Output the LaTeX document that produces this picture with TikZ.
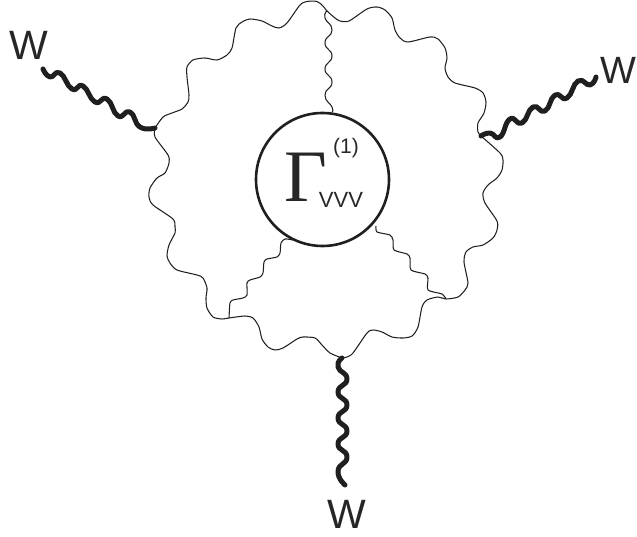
\documentclass[tikz,border=0pt]{standalone}
\usepackage{fontspec}
\setmainfont{Liberation Sans}
\newfontfamily\gamfont{Liberation Serif}
\tikzset{
  ink/.style={draw=black!88},
  gluon/.style={ink,line width=1.05pt,line join=round},
  wboson/.style={ink,line width=5pt,line cap=round,line join=round},
  wlabel/.style={inner sep=0pt,anchor=base,text=black!85,font=\fontsize{41}{41}\selectfont},
  blob/.style={ink,circle,line width=2.6pt,minimum size=133pt,inner sep=0pt},
  lab/.style={inner sep=0pt,anchor=base,text=black!85}
}
\begin{document}
\begin{tikzpicture}[x=1pt,y=-1pt]
\useasboundingbox (0,0) rectangle (637,537);
\coordinate (vL) at (155,128);
\coordinate (vR) at (481,136);
\coordinate (vB) at (342,358);
\coordinate (vT) at (327,11);
\coordinate (vLL) at (229,318);
\coordinate (vLR) at (446,299);
\node[blob] (G) at (322.5,179.5) {};
\coordinate (gT) at (332,112);
\coordinate (gLL) at (293,240);
\coordinate (gLR) at (376,226);
\node[lab,font=\gamfont\fontsize{74}{74}\selectfont] (gam) at (305.5,202) {Γ};
\node[lab,font=\fontsize{21}{21}\selectfont] (one) at (346,154) {(1)};
\node[lab,font=\fontsize{22}{22}\selectfont] (vvv) at (341,208) {VVV};
\node[wlabel] (W1) at (28.5,60) {W};
\node[wlabel,font=\fontsize{38}{38}\selectfont] (W2) at (618.5,84) {W};
\node[wlabel] (W3) at (347,528) {W};
\coordinate (e1) at (43,69);
\coordinate (e2) at (596,77);
\coordinate (e3) at (345,485);
% outer loop
\draw[gluon] plot[smooth,tension=0.45] coordinates {(vL) (163,117) (172,113) (182,109) (188,102) (189,95) (187,77) (187,67) (193,60) (205,58) (217,60) (227,55) (232,48) (236,28) (242,22) (250,19) (262,21) (272,26) (279,28) (287,23) (300,5) (307,1.5) (317,1.5) (323,6) (vT) (335,18) (340,21) (349,21) (367,9) (377,7) (385,10) (392,18) (395,30) (400,38) (408,42) (430,37) (438,39) (445,48) (447,58) (445,68) (448,77) (455,83) (475,88) (483,93) (486,102) (484,113) (478,123) (478,132) (vR)};
\draw[gluon] plot[smooth,tension=0.45] coordinates {(vR) (500,153) (503,160) (502,170) (497,178) (488,185) (483,193) (485,203) (497,221) (497,230) (493,238) (483,245) (473,247) (466,252) (464,262) (468,283) (465,290) (458,297) (vLR) (438,297) (427,300) (422,307) (418,327) (412,336) (403,338) (392,337) (382,332) (373,330) (367,333) (353,353) (347,357) (vB)};
\draw[gluon] plot[smooth,tension=0.45] coordinates {(vB) (330,353) (322,345) (315,338) (303,337) (297,339) (283,348) (275,350) (268,347) (262,339) (259,327) (253,318) (245,316) (vLL) (222,319) (213,317) (207,308) (206,298) (207,288) (203,278) (197,275) (177,270) (170,263) (167,256) (169,245) (175,233) (175,227) (173,219) (153,205) (149,197) (150,188) (157,178) (165,173) (169,163) (168,155) (155,137) (vL)};
% inner gluons
\draw[gluon] plot[smooth,tension=1] coordinates {(vT) (325,18) (332,30) (325,43) (332,56) (325,69) (332,82) (325,95) (332,107) (gT)};
\draw[gluon] plot[smooth,tension=0.4] coordinates {(vLL) (230,303) (233,300) (243,298) (247,295) (247,283) (250,280) (260,277) (263,273) (264,262) (267,259) (277,257) (280,253) (281,243) (285,239) (gLL)};
\draw[gluon] plot[smooth,tension=0.4] coordinates {(gLR) (377,232) (390,235) (393,240) (394,250) (407,254) (410,258) (411,270) (425,274) (428,278) (428,290) (442,294) (vLR)};
% W bosons
\draw[wboson] plot[smooth,tension=0.9] coordinates {(e1) (50,77) (60,73) (72,89) (83,86) (95,102) (107,99) (118,116) (130,112) (140,127) (vL)};
\draw[wboson] plot[smooth,tension=0.9] coordinates {(vR) (490,133) (500,137) (510,119) (522,123) (533,107) (545,111) (555,95) (567,98) (578,81) (590,85) (e2)};
\draw[wboson] plot[smooth,tension=1] coordinates {(vB) (338,367) (347,379) (338,392) (347,405) (338,418) (347,431) (338,444) (347,457) (338,471) (e3)};
\end{tikzpicture}
\end{document}
